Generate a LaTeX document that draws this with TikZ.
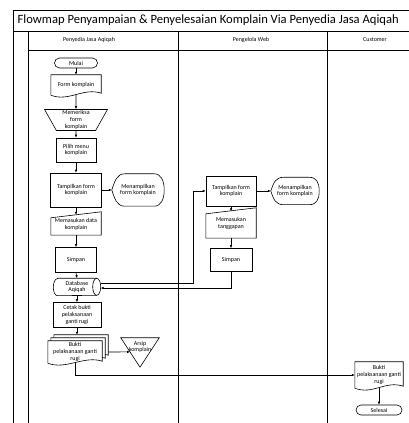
\documentclass[tikz,border=0pt]{standalone}
\usepackage{fontspec}
\setmainfont{Carlito}
\usetikzlibrary{shapes.misc,shapes.geometric,arrows.meta,calc}
\tikzset{
  >={Latex[length=3pt,width=2.6pt]},
}
\tikzstyle{every node}=[font=\fontsize{6}{6.8}\selectfont, align=center, inner sep=1pt]
\tikzstyle{garis}=[line width=0.9pt]
\tikzstyle{alur}=[->, line width=0.6pt]
\tikzstyle{terminal}=[rounded rectangle, draw, line width=0.6pt, minimum height=10pt]
\tikzstyle{proses}=[rectangle, draw, line width=0.6pt]
\tikzstyle{manual}=[trapezium, draw, line width=0.6pt, shape border rotate=180,
  trapezium stretches=true, trapezium left angle=67, trapezium right angle=67]
\tikzstyle{kotak}=[rectangle]

% outlines that are drawn round a plain node
\newcommand{\dokumen}[3][]{%
  \draw[line width=0.6pt, #1]
    ([shift={(#3,#3)}]#2.north west) -- ([shift={(#3,#3)}]#2.north east)
    -- ([shift={(#3,#3+2pt)}]#2.south east)
    .. controls +(-18pt,6pt) and +(18pt,-7pt) .. ([shift={(#3,#3)}]#2.south west) -- cycle;
}
\newcommand{\inputmanual}[1]{%
  \draw[line width=0.6pt] ([yshift=-6pt]#1.north west) -- (#1.north east)
    -- (#1.south east) -- (#1.south west) -- cycle;
}
\newcommand{\layar}[1]{%
  \draw[line width=0.6pt] (#1.west) .. controls +(3pt,9pt) and +(-8pt,0pt) .. ([xshift=13pt]#1.north west)
    -- ([xshift=-10pt]#1.north east) .. controls +(7pt,0pt) and +(0pt,9pt) .. (#1.east)
    .. controls +(0pt,-9pt) and +(7pt,0pt) .. ([xshift=-10pt]#1.south east)
    -- ([xshift=13pt]#1.south west) .. controls +(-8pt,0pt) and +(3pt,-9pt) .. (#1.west) -- cycle;
}
\newcommand{\tabung}[1]{%
  \draw[line width=0.6pt] ([xshift=4pt]#1.north west) -- ([xshift=-4pt]#1.north east)
    arc[start angle=90, end angle=-90, x radius=4pt, y radius=8.5pt]
    -- ([xshift=4pt]#1.south west)
    arc[start angle=270, end angle=90, x radius=4pt, y radius=8.5pt] -- cycle;
  \draw[line width=0.6pt] ([xshift=-4pt]#1.north east)
    arc[start angle=90, end angle=270, x radius=4pt, y radius=8.5pt];
}
\newcommand{\gabung}[1]{%
  \draw[line width=0.6pt] (#1.north west) -- (#1.north east) -- (#1.south) -- cycle;
}

\begin{document}
\begin{tikzpicture}[x=1pt, y=1pt]
  \useasboundingbox (0,0) rectangle (409,423);

  % frame and lanes
  \draw[garis] (13,0) -- (13,413) -- (409,413);
  \draw[garis] (13,392) -- (409,392);
  \draw[garis] (28,373) -- (409,373);
  \draw[garis] (28,0) -- (28,392);
  \draw[garis] (178,0) -- (178,392);
  \draw[garis] (327,0) -- (327,392);
  \node[anchor=west, font=\fontsize{12.6}{14}\selectfont] (judul) at (16.5,402.5)
    {Flowmap Penyampaian \& Penyelesaian Komplain Via Penyedia Jasa Aqiqah};
  \node (lajur1) at (89,383) {Penyedia Jasa Aqiqah};
  \node (lajur2) at (251,383) {Pengelola Web};
  \node (lajur3) at (375,383) {Customer};

  % Penyedia Jasa Aqiqah
  \node[terminal, minimum width=45pt] (mulai) at (76,360) {Mulai};
  \node[kotak, minimum width=50pt, minimum height=20pt] (form) at (76,338) {Form komplain};
  \dokumen{form}{0pt}
  \node[manual, minimum width=63pt, minimum height=21pt] (periksa) at (76,303) {Memeriksa\\form\\komplain};
  \node[proses, minimum width=40pt, minimum height=24pt] (pilih) at (76,273) {Pilih menu\\komplain};
  \node[proses, minimum width=51pt, minimum height=34pt] (tampil1) at (76,233) {Tampilkan form\\komplain};
  \node[kotak, minimum width=52pt, minimum height=32pt] (layar1) at (138,233) {Menampilkan\\form komplain};
  \layar{layar1}
  \node[kotak, minimum width=50pt, minimum height=23pt] (input1) at (76,199.5) {\\[-1pt]Memasukan data\\komplain};
  \inputmanual{input1}
  \node[proses, minimum width=41pt, minimum height=25pt] (simpan1) at (76,163) {Simpan};
  \node[kotak, minimum width=47pt, minimum height=17pt] (db) at (77,136) {Database\\Aqiqah};
  \tabung{db}
  \node[proses, minimum width=48pt, minimum height=25pt] (cetak) at (77,108) {Cetak bukti\\pelaksanaan\\ganti rugi};
  \node[kotak, minimum width=54pt, minimum height=22pt] (bukti1) at (75,71) {};
  \dokumen[fill=white]{bukti1}{6pt}
  \dokumen[fill=white]{bukti1}{3pt}
  \dokumen[fill=white]{bukti1}{0pt}
  \node at (bukti1) {Bukti\\pelaksanaan ganti\\rugi};
  \node[kotak, minimum width=38pt, minimum height=29pt,
    label={[anchor=north, yshift=-2pt]north:Arsip\\komplain}] (arsip) at (140,70.5) {};
  \gabung{arsip}

  % Pengelola Web
  \node[proses, minimum width=50pt, minimum height=30pt] (tampil2) at (231,232) {Tampilkan form\\komplain};
  \node[kotak, minimum width=48pt, minimum height=27pt] (layar2) at (295,232) {Menampilkan\\form komplain};
  \layar{layar2}
  \node[kotak, minimum width=50pt, minimum height=30pt] (input2) at (231,200) {\\[-1pt]Memasukan\\tanggapan};
  \inputmanual{input2}
  \node[proses, minimum width=42pt, minimum height=23pt] (simpan2) at (231,163) {Simpan};

  % Customer
  \node[kotak, minimum width=48pt, minimum height=26pt] (bukti2) at (379,48) {Bukti\\pelaksanaan ganti\\rugi};
  \dokumen{bukti2}{0pt}
  \node[terminal, minimum width=48pt] (selesai) at (379,13) {Selesai};

  % alur
  \draw[alur] (mulai.south) -- (form.north);
  \draw[alur] (form.south) -- (periksa.north);
  \draw[alur] (periksa.south) -- (pilih.north);
  \draw[alur] (pilih.south) -- (tampil1.north);
  \draw[alur] (tampil1.east) -- (layar1.west);
  \draw[alur] (tampil1.south) -- ([yshift=-3pt]input1.north);
  \draw[alur] (input1.south) -- (simpan1.north);
  \draw[alur] (simpan1.south) -- (db.north);
  \draw[alur] (db.south) -- (cetak.north);
  \draw[alur] (cetak.south) -- ($(cetak.south |- bukti1.north)+(0,6pt)$);
  \draw[alur] ([xshift=6pt]bukti1.east) -- ($(arsip.north west)!0.48!(arsip.south)$);
  \draw[alur] (bukti1.south) |- (bukti2.west);
  \draw[alur] (bukti2.south) -- (selesai.north);
  \draw[alur] ([yshift=4pt]db.east) -| ([xshift=-12pt]tampil2.west) -- (tampil2.west);
  \draw[alur] (tampil2.east) -- (layar2.west);
  \draw[alur] (tampil2.south) -- ([yshift=-3.5pt]input2.north);
  \draw[alur] (input2.south) -- (simpan2.north);
  \draw[alur] (simpan2.south) |- ([yshift=-1pt]db.east);
\end{tikzpicture}
\end{document}
